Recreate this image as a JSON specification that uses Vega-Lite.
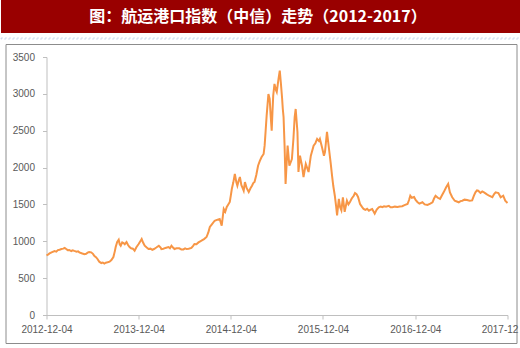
{
  "$schema": "https://vega.github.io/schema/vega-lite/v6.json",
  "padding": 0,
  "background": "white",
  "bounds": "flush",
  "center": true,
  "spacing": 5,
  "config": {"view": {"stroke": null}},
  "vconcat": [
    {
      "width": 520,
      "height": 33,
      "view": {"fill": "#990000", "stroke": null},
      "data": {"values": [{"title": "图：航运港口指数（中信）走势（2012-2017）"}]},
      "mark": {"type": "text", "color": "#FFFFFF", "font": "Noto Sans CJK SC", "fontSize": 16, "fontWeight": "bold", "dx": -3},
      "encoding": {"text": {"field": "title"}}
    },
    {
      "width": 520,
      "height": 1,
      "view": {"fill": null, "stroke": "#A9BEDC", "strokeDash": [2, 2], "strokeWidth": 0.5},
      "data": {"values": [{"t": ""}]},
      "mark": {"type": "text"},
      "encoding": {"text": {"field": "t"}}
    },
    {
      "width": 511,
      "height": 299,
      "view": {"fill": "#FFFFFF", "stroke": "#8C8C8C", "strokeWidth": 1},
      "data": {"values": [
        {"date": "2012-12-04", "value": 810},
        {"date": "2012-12-10", "value": 820},
        {"date": "2012-12-16", "value": 835},
        {"date": "2012-12-24", "value": 850},
        {"date": "2013-01-05", "value": 868},
        {"date": "2013-01-12", "value": 860},
        {"date": "2013-01-18", "value": 880},
        {"date": "2013-01-25", "value": 885},
        {"date": "2013-02-01", "value": 895},
        {"date": "2013-02-08", "value": 900},
        {"date": "2013-02-14", "value": 909},
        {"date": "2013-02-20", "value": 895},
        {"date": "2013-02-26", "value": 880},
        {"date": "2013-03-04", "value": 882},
        {"date": "2013-03-12", "value": 868},
        {"date": "2013-03-18", "value": 878},
        {"date": "2013-03-24", "value": 870},
        {"date": "2013-04-02", "value": 860},
        {"date": "2013-04-08", "value": 865},
        {"date": "2013-04-13", "value": 850},
        {"date": "2013-04-22", "value": 838},
        {"date": "2013-05-03", "value": 825},
        {"date": "2013-05-10", "value": 830},
        {"date": "2013-05-16", "value": 845},
        {"date": "2013-05-22", "value": 855},
        {"date": "2013-05-30", "value": 850},
        {"date": "2013-06-06", "value": 830},
        {"date": "2013-06-12", "value": 800},
        {"date": "2013-06-18", "value": 785},
        {"date": "2013-06-24", "value": 760},
        {"date": "2013-07-01", "value": 723},
        {"date": "2013-07-09", "value": 705},
        {"date": "2013-07-15", "value": 712},
        {"date": "2013-07-21", "value": 698},
        {"date": "2013-07-27", "value": 710},
        {"date": "2013-08-03", "value": 715},
        {"date": "2013-08-11", "value": 723},
        {"date": "2013-08-18", "value": 745},
        {"date": "2013-08-26", "value": 787},
        {"date": "2013-09-01", "value": 870},
        {"date": "2013-09-04", "value": 922},
        {"date": "2013-09-10", "value": 990},
        {"date": "2013-09-16", "value": 1020},
        {"date": "2013-09-20", "value": 960},
        {"date": "2013-09-24", "value": 940},
        {"date": "2013-09-30", "value": 985},
        {"date": "2013-10-05", "value": 977},
        {"date": "2013-10-10", "value": 960},
        {"date": "2013-10-17", "value": 990},
        {"date": "2013-10-23", "value": 950},
        {"date": "2013-10-29", "value": 922},
        {"date": "2013-11-04", "value": 905},
        {"date": "2013-11-11", "value": 900},
        {"date": "2013-11-18", "value": 872},
        {"date": "2013-11-25", "value": 920},
        {"date": "2013-12-04", "value": 963},
        {"date": "2013-12-12", "value": 1008},
        {"date": "2013-12-16", "value": 1031},
        {"date": "2013-12-22", "value": 980},
        {"date": "2013-12-28", "value": 940},
        {"date": "2014-01-05", "value": 915},
        {"date": "2014-01-12", "value": 895},
        {"date": "2014-01-20", "value": 900},
        {"date": "2014-01-27", "value": 885},
        {"date": "2014-02-03", "value": 895},
        {"date": "2014-02-12", "value": 915},
        {"date": "2014-02-22", "value": 940},
        {"date": "2014-03-01", "value": 915},
        {"date": "2014-03-04", "value": 895},
        {"date": "2014-03-12", "value": 900},
        {"date": "2014-03-20", "value": 910},
        {"date": "2014-04-01", "value": 922},
        {"date": "2014-04-07", "value": 905},
        {"date": "2014-04-13", "value": 940},
        {"date": "2014-04-19", "value": 915},
        {"date": "2014-04-25", "value": 895},
        {"date": "2014-05-03", "value": 905},
        {"date": "2014-05-14", "value": 905},
        {"date": "2014-05-22", "value": 890},
        {"date": "2014-05-30", "value": 890},
        {"date": "2014-06-06", "value": 905},
        {"date": "2014-06-12", "value": 895},
        {"date": "2014-06-20", "value": 900},
        {"date": "2014-07-01", "value": 910},
        {"date": "2014-07-07", "value": 935},
        {"date": "2014-07-13", "value": 963},
        {"date": "2014-07-21", "value": 960},
        {"date": "2014-07-29", "value": 985},
        {"date": "2014-08-05", "value": 1000},
        {"date": "2014-08-10", "value": 1008},
        {"date": "2014-08-20", "value": 1030},
        {"date": "2014-08-30", "value": 1058},
        {"date": "2014-09-06", "value": 1120},
        {"date": "2014-09-12", "value": 1194},
        {"date": "2014-09-20", "value": 1230},
        {"date": "2014-10-01", "value": 1279},
        {"date": "2014-10-10", "value": 1290},
        {"date": "2014-10-21", "value": 1302},
        {"date": "2014-10-29", "value": 1211},
        {"date": "2014-11-06", "value": 1438},
        {"date": "2014-11-12", "value": 1400},
        {"date": "2014-11-18", "value": 1465},
        {"date": "2014-11-24", "value": 1500},
        {"date": "2014-11-30", "value": 1533},
        {"date": "2014-12-04", "value": 1620},
        {"date": "2014-12-08", "value": 1709},
        {"date": "2014-12-14", "value": 1800},
        {"date": "2014-12-20", "value": 1913},
        {"date": "2014-12-26", "value": 1800},
        {"date": "2014-12-30", "value": 1754},
        {"date": "2015-01-04", "value": 1820},
        {"date": "2015-01-09", "value": 1872},
        {"date": "2015-01-15", "value": 1760},
        {"date": "2015-01-20", "value": 1720},
        {"date": "2015-01-24", "value": 1686},
        {"date": "2015-01-29", "value": 1804},
        {"date": "2015-02-05", "value": 1720},
        {"date": "2015-02-13", "value": 1668},
        {"date": "2015-02-20", "value": 1720},
        {"date": "2015-02-26", "value": 1754},
        {"date": "2015-03-03", "value": 1790},
        {"date": "2015-03-08", "value": 1804},
        {"date": "2015-03-15", "value": 1900},
        {"date": "2015-03-22", "value": 2025},
        {"date": "2015-03-29", "value": 2090},
        {"date": "2015-04-05", "value": 2143},
        {"date": "2015-04-13", "value": 2184},
        {"date": "2015-04-17", "value": 2297},
        {"date": "2015-04-21", "value": 2500},
        {"date": "2015-04-25", "value": 2704},
        {"date": "2015-05-02", "value": 2998},
        {"date": "2015-05-07", "value": 2930},
        {"date": "2015-05-11", "value": 2700},
        {"date": "2015-05-15", "value": 2500},
        {"date": "2015-05-18", "value": 2750},
        {"date": "2015-05-21", "value": 2975},
        {"date": "2015-05-26", "value": 3134},
        {"date": "2015-06-01", "value": 3050},
        {"date": "2015-06-04", "value": 3025},
        {"date": "2015-06-11", "value": 3202},
        {"date": "2015-06-16", "value": 3315},
        {"date": "2015-06-20", "value": 3161},
        {"date": "2015-06-25", "value": 2950},
        {"date": "2015-06-28", "value": 2795},
        {"date": "2015-07-01", "value": 2686},
        {"date": "2015-07-05", "value": 2300},
        {"date": "2015-07-09", "value": 1777},
        {"date": "2015-07-13", "value": 2050},
        {"date": "2015-07-17", "value": 2297},
        {"date": "2015-07-24", "value": 2025},
        {"date": "2015-08-03", "value": 2116},
        {"date": "2015-08-09", "value": 2388},
        {"date": "2015-08-14", "value": 2686},
        {"date": "2015-08-18", "value": 2795},
        {"date": "2015-08-25", "value": 2483},
        {"date": "2015-08-29", "value": 1940},
        {"date": "2015-09-04", "value": 2161},
        {"date": "2015-09-12", "value": 2025},
        {"date": "2015-09-18", "value": 1872},
        {"date": "2015-09-27", "value": 2048},
        {"date": "2015-10-08", "value": 1940},
        {"date": "2015-10-17", "value": 2161},
        {"date": "2015-10-28", "value": 2297},
        {"date": "2015-11-04", "value": 2330},
        {"date": "2015-11-11", "value": 2388},
        {"date": "2015-11-18", "value": 2360},
        {"date": "2015-11-22", "value": 2388},
        {"date": "2015-11-30", "value": 2279},
        {"date": "2015-12-08", "value": 2161},
        {"date": "2015-12-12", "value": 2211},
        {"date": "2015-12-20", "value": 2483},
        {"date": "2015-12-28", "value": 2252},
        {"date": "2016-01-04", "value": 2050},
        {"date": "2016-01-09", "value": 1890},
        {"date": "2016-01-14", "value": 1750},
        {"date": "2016-01-20", "value": 1618},
        {"date": "2016-01-25", "value": 1480},
        {"date": "2016-01-29", "value": 1350},
        {"date": "2016-02-05", "value": 1574},
        {"date": "2016-02-10", "value": 1461},
        {"date": "2016-02-15", "value": 1420},
        {"date": "2016-02-21", "value": 1597},
        {"date": "2016-02-28", "value": 1400},
        {"date": "2016-03-08", "value": 1550},
        {"date": "2016-03-14", "value": 1500},
        {"date": "2016-03-20", "value": 1533},
        {"date": "2016-03-27", "value": 1580},
        {"date": "2016-04-04", "value": 1618},
        {"date": "2016-04-09", "value": 1655},
        {"date": "2016-04-15", "value": 1640},
        {"date": "2016-04-21", "value": 1601},
        {"date": "2016-04-29", "value": 1506},
        {"date": "2016-05-06", "value": 1470},
        {"date": "2016-05-13", "value": 1438},
        {"date": "2016-05-20", "value": 1425},
        {"date": "2016-05-27", "value": 1440},
        {"date": "2016-06-03", "value": 1415},
        {"date": "2016-06-10", "value": 1430},
        {"date": "2016-06-16", "value": 1438},
        {"date": "2016-06-22", "value": 1400},
        {"date": "2016-06-26", "value": 1375},
        {"date": "2016-07-04", "value": 1430},
        {"date": "2016-07-12", "value": 1461},
        {"date": "2016-07-20", "value": 1470},
        {"date": "2016-07-26", "value": 1462},
        {"date": "2016-08-02", "value": 1475},
        {"date": "2016-08-10", "value": 1468},
        {"date": "2016-08-21", "value": 1480},
        {"date": "2016-08-28", "value": 1462},
        {"date": "2016-09-04", "value": 1461},
        {"date": "2016-09-14", "value": 1470},
        {"date": "2016-09-24", "value": 1465},
        {"date": "2016-10-03", "value": 1472},
        {"date": "2016-10-13", "value": 1475},
        {"date": "2016-10-22", "value": 1490},
        {"date": "2016-11-03", "value": 1506},
        {"date": "2016-11-09", "value": 1560},
        {"date": "2016-11-14", "value": 1618},
        {"date": "2016-11-20", "value": 1590},
        {"date": "2016-11-29", "value": 1601},
        {"date": "2016-12-05", "value": 1560},
        {"date": "2016-12-12", "value": 1533},
        {"date": "2016-12-20", "value": 1510},
        {"date": "2017-01-01", "value": 1529},
        {"date": "2017-01-10", "value": 1500},
        {"date": "2017-01-21", "value": 1492},
        {"date": "2017-02-01", "value": 1510},
        {"date": "2017-02-10", "value": 1529},
        {"date": "2017-02-16", "value": 1580},
        {"date": "2017-02-22", "value": 1618},
        {"date": "2017-03-03", "value": 1590},
        {"date": "2017-03-12", "value": 1574},
        {"date": "2017-03-19", "value": 1620},
        {"date": "2017-03-26", "value": 1664},
        {"date": "2017-04-05", "value": 1732},
        {"date": "2017-04-13", "value": 1777},
        {"date": "2017-04-20", "value": 1664},
        {"date": "2017-04-29", "value": 1597},
        {"date": "2017-05-09", "value": 1550},
        {"date": "2017-05-17", "value": 1540},
        {"date": "2017-05-25", "value": 1529},
        {"date": "2017-06-01", "value": 1545},
        {"date": "2017-06-08", "value": 1550},
        {"date": "2017-06-17", "value": 1565},
        {"date": "2017-06-27", "value": 1560},
        {"date": "2017-07-07", "value": 1550},
        {"date": "2017-07-17", "value": 1555},
        {"date": "2017-07-24", "value": 1620},
        {"date": "2017-07-30", "value": 1664},
        {"date": "2017-08-05", "value": 1690},
        {"date": "2017-08-10", "value": 1686},
        {"date": "2017-08-19", "value": 1655},
        {"date": "2017-08-26", "value": 1675},
        {"date": "2017-09-02", "value": 1664},
        {"date": "2017-09-12", "value": 1640},
        {"date": "2017-09-22", "value": 1618},
        {"date": "2017-10-05", "value": 1597},
        {"date": "2017-10-12", "value": 1640},
        {"date": "2017-10-18", "value": 1664},
        {"date": "2017-10-29", "value": 1655},
        {"date": "2017-11-07", "value": 1597},
        {"date": "2017-11-17", "value": 1618},
        {"date": "2017-11-25", "value": 1550},
        {"date": "2017-12-04", "value": 1520}
      ]},
      "mark": {"type": "line", "color": "#F79646", "strokeWidth": 2},
      "encoding": {
        "x": {
          "field": "date",
          "type": "temporal",
          "scale": {
            "type": "utc",
            "domain": [{"year": 2012, "month": 12, "date": 4, "utc": true}, {"year": 2017, "month": 12, "date": 4, "utc": true}],
            "range": [41, 502]
          },
          "axis": {
            "title": null,
            "grid": false,
            "orient": "bottom",
            "offset": -28,
            "values": [
              {"year": 2012, "month": 12, "date": 4, "utc": true},
              {"year": 2013, "month": 12, "date": 4, "utc": true},
              {"year": 2014, "month": 12, "date": 4, "utc": true},
              {"year": 2015, "month": 12, "date": 4, "utc": true},
              {"year": 2016, "month": 12, "date": 4, "utc": true},
              {"year": 2017, "month": 12, "date": 4, "utc": true}
            ],
            "format": "%Y-%m-%d",
            "labelExpr": "utcyear(datum.value) == 2017 ? '2017-12' : datum.label",
            "labelOffset": {"condition": {"test": "utcyear(datum.value) == 2017", "value": -8}, "value": 0},
            "labelFlush": false,
            "labelOverlap": false,
            "labelBound": false,
            "tickSize": 4,
            "labelPadding": 5,
            "domainColor": "#BFBFBF",
            "tickColor": "#BFBFBF",
            "labelColor": "#595959",
            "labelFont": "Liberation Sans",
            "labelFontSize": 10
          }
        },
        "y": {
          "field": "value",
          "type": "quantitative",
          "scale": {"domain": [0, 3500], "range": [271, 13], "nice": false, "zero": true},
          "axis": {
            "title": null,
            "grid": false,
            "offset": -41,
            "values": [0, 500, 1000, 1500, 2000, 2500, 3000, 3500],
            "format": "d",
            "tickSize": 4,
            "labelPadding": 8,
            "domainColor": "#BFBFBF",
            "tickColor": "#BFBFBF",
            "labelColor": "#595959",
            "labelFont": "Liberation Sans",
            "labelFontSize": 10
          }
        }
      }
    }
  ]
}
